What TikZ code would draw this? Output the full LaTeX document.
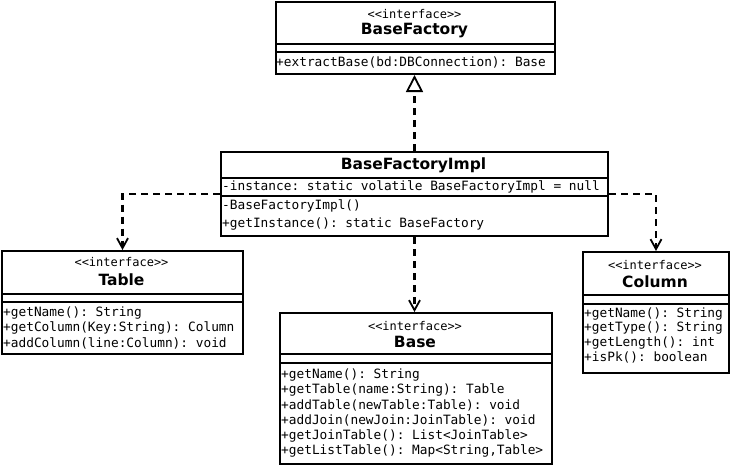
\documentclass[tikz,border=0pt]{standalone}
\usepackage{fontspec}
\setsansfont{DejaVu Sans}
\setmonofont{DejaVu Sans Mono}
\usetikzlibrary{arrows.meta}
\begin{document}
\begin{tikzpicture}[x=1pt, y=-1pt, line join=miter,
  classbox/.style={draw, line width=2pt, anchor=north west, inner sep=0pt},
  sep/.style={line width=2pt},
  stereo/.style={inner sep=0pt, font=\fontsize{12}{14}\selectfont\ttfamily},
  classname/.style={inner sep=0pt, font=\fontsize{15.5}{18}\selectfont\sffamily\bfseries},
  member/.style={anchor=west, inner sep=0pt, font=\fontsize{12.8}{15}\selectfont\ttfamily},
  depend/.style={line width=2.2pt, dash pattern=on 7pt off 5pt,
    -{Straight Barb[length=10pt,width=11pt,line width=1.8pt]}},
  realize/.style={line width=2.2pt, dash pattern=on 7pt off 5pt,
    -{Triangle[open,length=17pt,width=17pt,line width=1.8pt]}}]

  %% ════ 类框 ════
  \node[classbox, minimum width=279pt, minimum height=72pt]  (factory) at (275,1)   {};
  \node[classbox, minimum width=387pt, minimum height=84pt]  (impl)    at (220,151) {};
  \node[classbox, minimum width=241pt, minimum height=103pt] (table)   at (1,250)   {};
  \node[classbox, minimum width=272pt, minimum height=151pt] (base)    at (279,312) {};
  \node[classbox, minimum width=146pt, minimum height=121pt] (column)  at (582,251) {};

  %% ════ 分隔线 ════
  \draw[sep] (275,44) -- (554,44);
  \draw[sep] (275,52) -- (554,52);
  \draw[sep] (220,178) -- (607,178);
  \draw[sep] (220,196) -- (607,196);
  \draw[sep] (1,294) -- (242,294);
  \draw[sep] (1,302) -- (242,302);
  \draw[sep] (279,354) -- (551,354);
  \draw[sep] (279,363) -- (551,363);
  \draw[sep] (582,295) -- (728,295);
  \draw[sep] (582,304) -- (728,304);

  %% ════ BaseFactory ════
  \node[stereo]    at (414.5,14) {<{}<interface>{}>};
  \node[classname] at (414.5,31) {BaseFactory};
  \node[member]    at (276,62.5) {+extractBase(bd:DBConnection): Base};

  %% ════ BaseFactoryImpl ════
  \node[classname] at (413.5,165) {BaseFactoryImpl};
  \node[member]    at (222,187)   {-instance: static volatile BaseFactoryImpl = null};
  \node[member]    at (222,206)   {-BaseFactoryImpl()};
  \node[member]    at (222,224.5) {+getInstance(): static BaseFactory};

  %% ════ Table ════
  \node[stereo]    at (121.5,262) {<{}<interface>{}>};
  \node[classname] at (121.5,280) {Table};
  \node[member]    at (3,313)     {+getName(): String};
  \node[member]    at (3,328)     {+getColumn(Key:String): Column};
  \node[member]    at (3,343)     {+addColumn(line:Column): void};

  %% ════ Base ════
  \node[stereo]    at (415,326) {<{}<interface>{}>};
  \node[classname] at (415,342) {Base};
  \node[member]    at (281,375) {+getName(): String};
  \node[member]    at (281,390) {+getTable(name:String): Table};
  \node[member]    at (281,405) {+addTable(newTable:Table): void};
  \node[member]    at (281,420) {+addJoin(newJoin:JoinTable): void};
  \node[member]    at (281,436) {+getJoinTable(): List<JoinTable>};
  \node[member]    at (281,451) {+getListTable(): Map<String,Table>};

  %% ════ Column ════
  \node[stereo]    at (655,265) {<{}<interface>{}>};
  \node[classname] at (655,282) {Column};
  \node[member]    at (584,314) {+getName(): String};
  \node[member]    at (584,328) {+getType(): String};
  \node[member]    at (584,343) {+getLength(): int};
  \node[member]    at (584,357) {+isPk(): boolean};

  %% ════ 连线 ════
  \draw[realize] (impl.north) -- (impl.north |- factory.south);
  \draw[depend]  (impl.west) -| (table.north);
  \draw[depend]  (impl.east) -| (column.north);
  \draw[depend]  (impl.south) -- (impl.south |- base.north);

  \pgfresetboundingbox
  \path[use as bounding box] (0,0) rectangle (734,466);
\end{tikzpicture}
\end{document}
